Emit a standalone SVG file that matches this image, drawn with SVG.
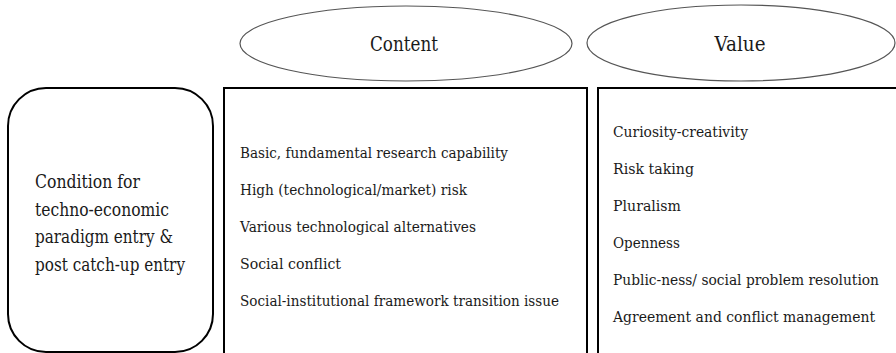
<svg xmlns="http://www.w3.org/2000/svg" width="896" height="353" viewBox="0 0 896 353">
<style>
.box{fill:#fff;stroke:#000;stroke-width:2}
.ell{fill:#fff;stroke:#555;stroke-width:1.2}
text{fill:#1a1a1a;font-family:'DejaVu Serif','Liberation Serif',serif}
.t{font-size:14.5px}
.h{font-size:20px;text-anchor:middle}
.l{font-size:18px}
</style>
<rect width="896" height="353" fill="#fff"/>
<g id="condition">
<rect class="box" x="8" y="88" width="205" height="264" rx="38" ry="38"/>
<text class="l" x="35" y="188" textLength="105" lengthAdjust="spacingAndGlyphs">Condition for</text>
<text class="l" x="35" y="215.5" textLength="134" lengthAdjust="spacingAndGlyphs">techno-economic</text>
<text class="l" x="35" y="243" textLength="138" lengthAdjust="spacingAndGlyphs">paradigm entry &amp;</text>
<text class="l" x="35" y="270.5" textLength="150" lengthAdjust="spacingAndGlyphs">post catch-up entry</text>
</g>
<g id="content-header">
<ellipse class="ell" cx="406" cy="43.5" rx="166" ry="37.5"/>
<text class="h" x="404" y="51" textLength="68" lengthAdjust="spacingAndGlyphs">Content</text>
</g>
<g id="value-header">
<ellipse class="ell" cx="741" cy="43" rx="154" ry="38"/>
<text class="h" x="740" y="51" textLength="51" lengthAdjust="spacingAndGlyphs">Value</text>
</g>
<g id="content">
<rect class="box" x="224" y="88" width="363" height="280"/>
<text class="t" x="240" y="158" textLength="268" lengthAdjust="spacingAndGlyphs">Basic, fundamental research capability</text>
<text class="t" x="240" y="195" textLength="227" lengthAdjust="spacingAndGlyphs">High (technological/market) risk</text>
<text class="t" x="240" y="232" textLength="236" lengthAdjust="spacingAndGlyphs">Various technological alternatives</text>
<text class="t" x="240" y="269" textLength="101" lengthAdjust="spacingAndGlyphs">Social conflict</text>
<text class="t" x="240" y="306" textLength="319" lengthAdjust="spacingAndGlyphs">Social-institutional framework transition issue</text>
</g>
<g id="value">
<rect class="box" x="598" y="88" width="320" height="280"/>
<text class="t" x="613" y="137" textLength="135" lengthAdjust="spacingAndGlyphs">Curiosity-creativity</text>
<text class="t" x="613" y="174" textLength="81" lengthAdjust="spacingAndGlyphs">Risk taking</text>
<text class="t" x="613" y="211" textLength="68" lengthAdjust="spacingAndGlyphs">Pluralism</text>
<text class="t" x="613" y="248" textLength="67" lengthAdjust="spacingAndGlyphs">Openness</text>
<text class="t" x="613" y="285" textLength="266" lengthAdjust="spacingAndGlyphs">Public-ness/ social problem resolution</text>
<text class="t" x="613" y="322" textLength="262" lengthAdjust="spacingAndGlyphs">Agreement and conflict management</text>
</g>
<g id="connectors"></g>
</svg>
